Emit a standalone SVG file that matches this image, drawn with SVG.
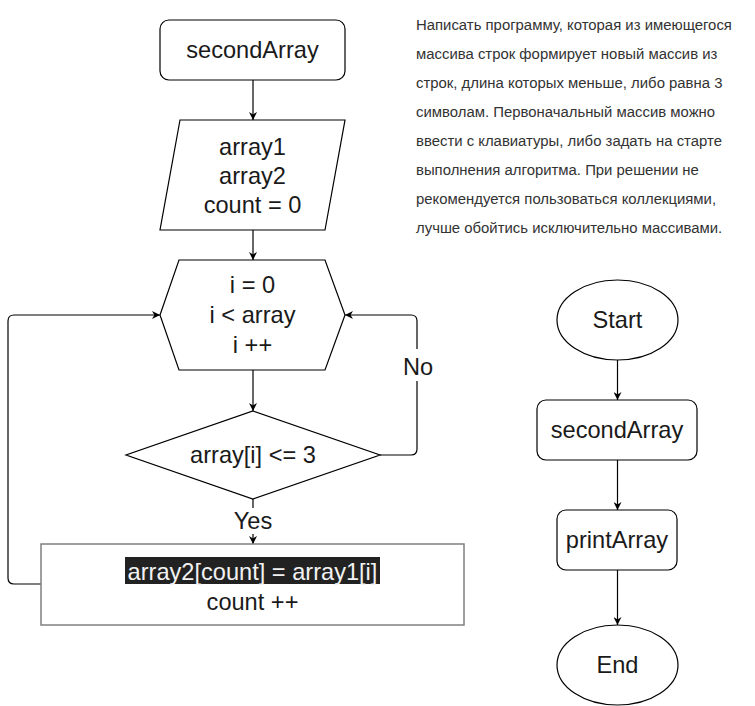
<svg xmlns="http://www.w3.org/2000/svg" width="755" height="706" viewBox="0 0 755 706">
<defs>
<marker id="arr" viewBox="0 0 10 10" refX="10" refY="5" markerWidth="8" markerHeight="8" markerUnits="userSpaceOnUse" orient="auto">
<path d="M0,0 L10,5 L0,10 L3,5 z" fill="#000"/>
</marker>
<style>
.shape{fill:#fff;stroke:#000;stroke-width:1.2}
.t{font-family:"Liberation Sans",Arial,sans-serif;font-size:23.6px;fill:#1a1a1a;text-anchor:middle}
.c{fill:none;stroke:#000;stroke-width:1.2;marker-end:url(#arr)}
.d{font-family:"Liberation Sans",Arial,sans-serif;font-size:14.9px;fill:#333}
</style>
</defs>
<rect width="755" height="706" fill="#fff"/>
<g id="connectors">
<path class="c" d="M253,80 V120"/>
<path class="c" d="M253,230 V260"/>
<path class="c" d="M253,370 V411"/>
<path class="c" d="M380,455 H411 Q417,455 417,449 V321 Q417,315 411,315 H345"/>
<path class="c" d="M253,499 V544"/>
<path class="c" d="M41,584 H14 Q8,584 8,578 V321 Q8,315 14,315 H160"/>
<path class="c" d="M617.5,360 V400"/>
<path class="c" d="M617.5,460 V510"/>
<path class="c" d="M617.5,570 V625"/>
<rect x="400" y="349" width="35" height="32" fill="#fff"/>
<text class="t" x="418" y="375">No</text>
<rect x="230" y="508" width="46" height="26" fill="#fff"/>
<text class="t" x="253" y="529">Yes</text>
</g>
<g id="n1">
<rect class="shape" x="160" y="20" width="185" height="60" rx="9"/>
<text class="t" x="252.5" y="58">secondArray</text>
</g>
<g id="n2">
<polygon class="shape" points="180,120 345,120 325,230 160,230"/>
<text class="t" x="252.5" y="155">array1</text>
<text class="t" x="252.5" y="184">array2</text>
<text class="t" x="252.5" y="213">count = 0</text>
</g>
<g id="n3">
<polygon class="shape" points="179,260 325,260 345,315 325,370 179,370 160,315"/>
<text class="t" x="252.5" y="293">i = 0</text>
<text class="t" x="252.5" y="323">i &lt; array</text>
<text class="t" x="252.5" y="353">i ++</text>
</g>
<g id="n4">
<polygon class="shape" points="253,411 380,455 253,499 126,455"/>
<text class="t" x="253" y="463">array[i] &lt;= 3</text>
</g>
<g id="n5">
<rect x="41" y="544" width="423" height="81" fill="#fff" stroke="#808080" stroke-width="1.5"/>
<rect x="125" y="557" width="255" height="27" fill="#222"/>
<text class="t" x="252.5" y="580" style="fill:#f2f2f2">array2[count] = array1[i]</text>
<text class="t" x="252.5" y="610">count ++</text>
</g>
<g id="s1">
<ellipse class="shape" cx="617.5" cy="320" rx="60.5" ry="40"/>
<text class="t" x="617.5" y="328">Start</text>
</g>
<g id="s2">
<rect class="shape" x="537" y="400" width="160" height="60" rx="9"/>
<text class="t" x="617" y="438">secondArray</text>
</g>
<g id="s3">
<rect class="shape" x="557" y="510" width="120" height="60" rx="9"/>
<text class="t" x="617" y="548">printArray</text>
</g>
<g id="s4">
<ellipse class="shape" cx="617.5" cy="665" rx="60.5" ry="40"/>
<text class="t" x="617.5" y="673">End</text>
</g>
<g id="desc">
<text class="d" x="416" y="30">Написать программу, которая из имеющегося</text>
<text class="d" x="416" y="59">массива строк формирует новый массив из</text>
<text class="d" x="416" y="88">строк, длина которых меньше, либо равна 3</text>
<text class="d" x="416" y="117">символам. Первоначальный массив можно</text>
<text class="d" x="416" y="146">ввести с клавиатуры, либо задать на старте</text>
<text class="d" x="416" y="175">выполнения алгоритма. При решении не</text>
<text class="d" x="416" y="204">рекомендуется пользоваться коллекциями,</text>
<text class="d" x="416" y="233">лучше обойтись исключительно массивами.</text>
</g>
</svg>
